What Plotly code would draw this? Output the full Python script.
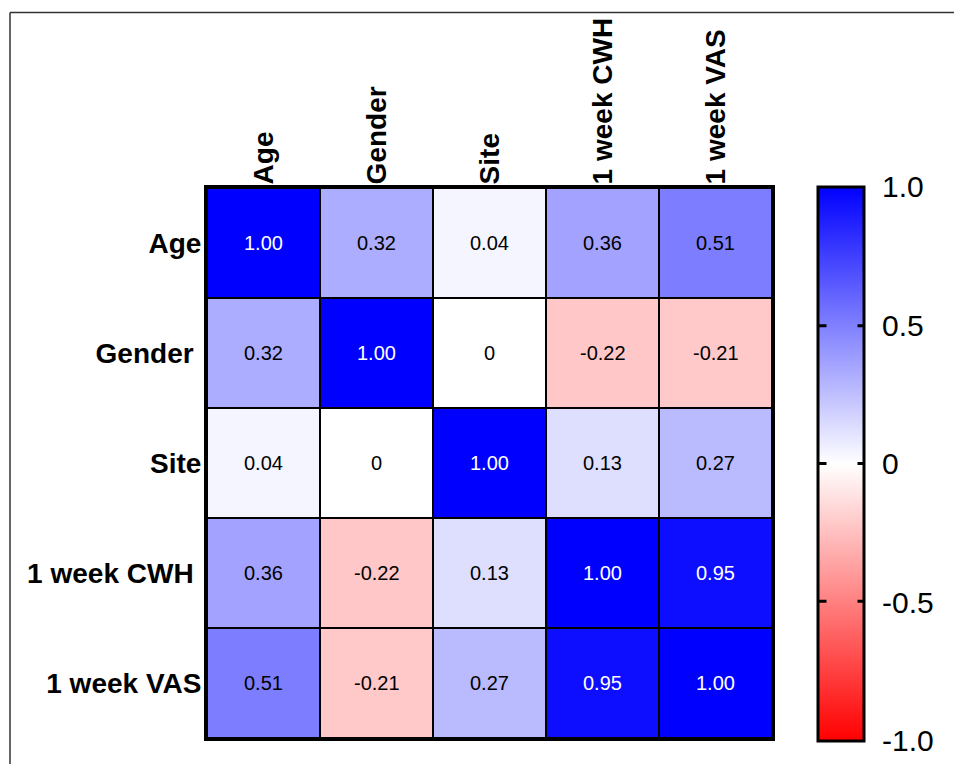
import plotly.graph_objects as go

# Correlation matrix of the study variables
variables = ["Age", "Gender", "Site", "1 week CWH", "1 week VAS"]
row_labels = ["Age", "Gender\u00a0", "Site", "1 week CWH\u00a0", "1 week VAS"]
r_age = [1.00, 0.32, 0.04, 0.36, 0.51]
r_gender = [0.32, 1.00, 0.00, -0.22, -0.21]
r_site = [0.04, 0.00, 1.00, 0.13, 0.27]
r_cwh = [0.36, -0.22, 0.13, 1.00, 0.95]
r_vas = [0.51, -0.21, 0.27, 0.95, 1.00]
matrix = [r_age, r_gender, r_site, r_cwh, r_vas]

cbar_vals = [-1.0, -0.5, 0.0, 0.5, 1.0]
cbar_text = ["-1.0", "-0.5", "0", "0.5", "1.0"]

FONT = "Arial, Liberation Sans, sans-serif"
W, H = 954, 764
L, R, T, B = 207, 182, 188, 26
PW, PH = W - L - R, H - T - B

CB_LEFT, CB_RIGHT, CB_TOP, CB_BOTTOM = 819, 865, 188, 739


def px_x(px):
    return (px - L) / PW


def px_y(py):
    return (H - B - py) / PH


def fmt(v):
    return "0" if v == 0 else f"{v:.2f}"


fig = go.Figure()
fig.add_trace(go.Heatmap(
    z=matrix,
    x=variables,
    y=variables,
    zmin=-1, zmax=1,
    colorscale=[[0, "rgb(255,0,0)"], [0.5, "rgb(255,255,255)"], [1, "rgb(0,0,255)"]],
    xgap=2, ygap=2,
    hoverinfo="skip",
    colorbar=dict(
        x=px_x(CB_LEFT - 1.5), xanchor="left", xpad=0,
        y=px_y(CB_BOTTOM + 1.5), yanchor="bottom", ypad=0,
        lenmode="pixels", len=CB_BOTTOM - CB_TOP + 3,
        thickness=CB_RIGHT - CB_LEFT,
        outlinewidth=3, outlinecolor="black",
        tickmode="array", tickvals=cbar_vals, ticktext=cbar_text,
        ticks="outside", ticklen=11, tickwidth=1, tickcolor="rgba(0,0,0,0)",
        tickfont=dict(family=FONT, size=30, color="black"),
    ),
))

annotations = []
for i, row in enumerate(matrix):
    for j, v in enumerate(row):
        annotations.append(dict(
            x=variables[j], y=variables[i], text=fmt(v), showarrow=False,
            font=dict(family=FONT, size=20, color="white" if v > 0.7 else "black"),
        ))

# short inward tick marks on both edges of the colour bar
for v in cbar_vals[1:-1]:
    yp = px_y(CB_BOTTOM - (v + 1) / 2 * (CB_BOTTOM - CB_TOP))
    for edge, dx in ((CB_LEFT, 9), (CB_RIGHT, -9)):
        annotations.append(dict(
            xref="paper", yref="paper", x=px_x(edge), y=yp,
            text="", showarrow=True, arrowhead=0, arrowwidth=3,
            arrowcolor="black", ax=dx, ay=0, standoff=0, startstandoff=0,
        ))

fig.update_layout(
    width=W, height=H,
    margin=dict(l=L, r=R, t=T, b=B, pad=0),
    paper_bgcolor="white",
    plot_bgcolor="black",
    annotations=annotations,
    shapes=[
        dict(type="line", xref="paper", yref="paper",
             x0=px_x(10), x1=px_x(956), y0=px_y(12.5), y1=px_y(12.5),
             line=dict(color="#333333", width=1.5)),
        dict(type="line", xref="paper", yref="paper",
             x0=px_x(10), x1=px_x(10), y0=px_y(12.5), y1=px_y(766),
             line=dict(color="#333333", width=1.5)),
    ],
)
fig.update_xaxes(
    side="top", tickangle=-90, ticks="", showgrid=False, zeroline=False,
    showline=True, linewidth=3, linecolor="black", mirror=True,
    ticklabelstandoff=-5,
    tickfont=dict(family=FONT, size=28, color="black", weight="bold"),
)
fig.update_yaxes(
    autorange="reversed", ticks="", showgrid=False, zeroline=False,
    showline=True, linewidth=3, linecolor="black", mirror=True,
    tickmode="array", tickvals=variables, ticktext=row_labels,
    ticklabelstandoff=-3,
    tickfont=dict(family=FONT, size=28, color="black", weight="bold"),
)

fig.write_html("out.html")
